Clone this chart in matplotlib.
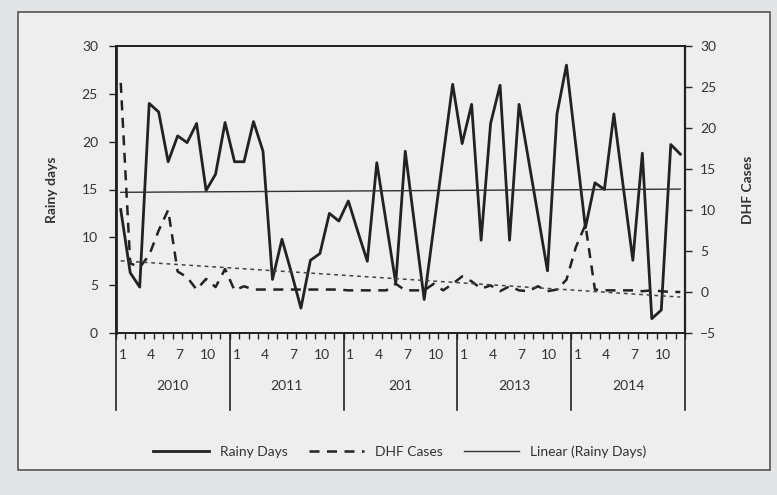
import numpy as np
import matplotlib.pyplot as plt
import matplotlib.transforms as mtransforms
from matplotlib.patches import Rectangle

plt.rcParams['font.family'] = ['Lato', 'DejaVu Sans']

# monthly values, Jan 2010 .. Dec 2014
rainy_days = [12.9, 6.3, 4.8, 24.0, 23.1, 17.9, 20.6, 19.9, 21.9, 14.9, 16.6, 22.0,
              17.9, 17.9, 22.1, 19.0, 5.6, 9.8, 6.3, 2.6, 7.6, 8.3, 12.5, 11.7,
              13.8, 10.6, 7.5, 17.8, 11.5, 5.2, 19.0, 11.2, 3.5, 11.0, 18.5, 26.0,
              19.8, 23.9, 9.7, 21.9, 25.9, 9.7, 23.9, 18.1, 12.3, 6.5, 22.9, 28.0,
              19.5, 11.0, 15.7, 15.0, 22.9, 15.2, 7.6, 18.8, 1.5, 2.4, 19.7, 18.7]
dhf_cases = [25.5, 3.5, 3.0, 4.5, 7.5, 10.0, 2.5, 1.8, 0.3, 1.6, 0.6, 2.8,
             0.2, 0.7, 0.3, 0.3, 0.3, 0.3, 0.3, 0.3, 0.3, 0.3, 0.3, 0.3,
             0.2, 0.2, 0.2, 0.2, 0.2, 1.0, 0.2, 0.2, 0.2, 1.0, 0.2, 1.0,
             1.9, 1.3, 0.4, 0.8, 0.1, 0.7, 0.2, 0.1, 0.7, 0.1, 0.3, 1.5,
             5.5, 8.2, 0.3, 0.2, 0.2, 0.2, 0.2, 0.1, 0.2, 0.1, 0.0, 0.0]
month_labels = ['1', '4', '7', '10']
year_labels = ['2010', '2011', '201', '2013', '2014']

W, H = 777, 495
ink = '#222222'

fig = plt.figure(figsize=(W / 100, H / 100), dpi=100, facecolor='#e3e4e6')
fig.patches.append(Rectangle((18 / W, 1 - 470 / H), (770 - 18) / W, (470 - 12) / H,
                             transform=fig.transFigure, facecolor='#eeeeee',
                             edgecolor='#555555', lw=1.2, zorder=-5))

ax = fig.add_axes([116 / W, 1 - 333 / H, 569 / W, 287 / H])
ax.set_facecolor('#eeeeee')

x = np.arange(len(rainy_days))
l1, = ax.plot(x, rainy_days, color=ink, lw=2.0, label='Rainy Days')
trend = np.polyval(np.polyfit(x, rainy_days, 1), x)
l3, = ax.plot(x, trend, color='#333333', lw=1.0, label='Linear (Rainy Days)')

ax2 = ax.twinx()
l2, = ax2.plot(x, dhf_cases, color=ink, lw=1.8, ls=(0, (4, 3)), label='DHF Cases')
dtrend = np.polyval(np.polyfit(x, dhf_cases, 1), x)
ax2.plot(x, dtrend, color='#444444', lw=1.1, ls=(0, (2.5, 2.5)))

ax.set_xlim(-0.5, len(x) - 0.5)
ax.set_ylim(0, 30)
ax2.set_ylim(-5, 30)
ax.set_yticks(range(0, 31, 5))
ax2.set_yticks(range(-5, 31, 5))
ax.set_xticks(np.arange(-0.5, len(x), 1))
ax.set_xticklabels([])

ax.tick_params(axis='x', length=4, width=1, color=ink)
ax.tick_params(axis='y', length=5, width=1, color=ink, labelsize=10, labelcolor='#333333', pad=8)
ax2.tick_params(axis='y', length=5, width=1, color=ink, labelsize=10, labelcolor='#333333', pad=6)

for a in (ax, ax2):
    for s in a.spines.values():
        s.set_color(ink)
        s.set_linewidth(1.3)
ax.spines['left'].set_linewidth(2)
ax2.spines['right'].set_linewidth(1.6)

# two-level category axis: months then years
tr = mtransforms.blended_transform_factory(ax.transData, ax.transAxes)
for k, yr in enumerate(year_labels):
    for j, m in zip([0, 3, 6, 9], month_labels):
        ax.text(12 * k + j + 0.2, -0.077, m, transform=tr, ha='center', va='center',
                fontsize=10, color='#333333')
    ax.text(12 * k + 5.5, -0.185, yr, transform=tr, ha='center', va='center',
            fontsize=10, color='#333333')
for k in range(len(year_labels) + 1):
    ax.plot([12 * k - 0.5] * 2, [0, -0.27], transform=tr, color=ink, lw=1.2, clip_on=False)

ax.set_ylabel('Rainy days', fontsize=10, fontweight='bold', color='#333333')
ax.yaxis.set_label_coords(-0.102, 0.5)
ax2.set_ylabel('DHF Cases', fontsize=10, fontweight='bold', color='#333333', rotation=90)
ax2.yaxis.set_label_coords(1.1, 0.5)

fig.legend(handles=[l1, l2, l3], loc='center', bbox_to_anchor=(400 / W, 1 - 452 / H),
           ncol=3, frameon=False, fontsize=10, handlelength=4, columnspacing=1.5,
           labelcolor='#333333')

fig.savefig('out.png', dpi=100, facecolor=fig.get_facecolor())
